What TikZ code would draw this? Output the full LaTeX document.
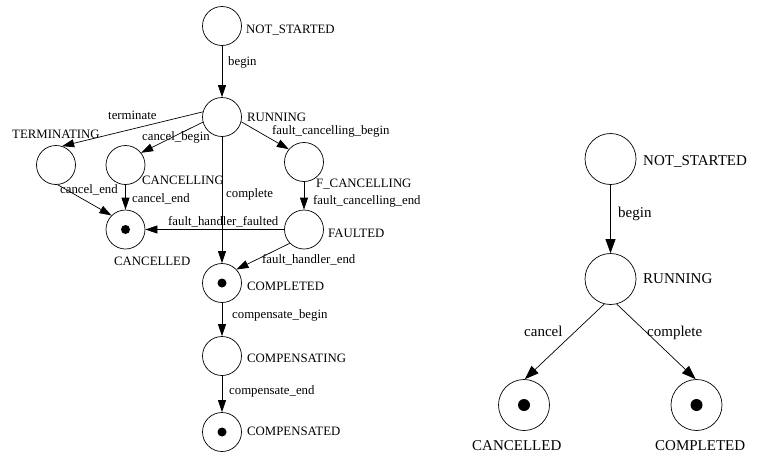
\documentclass[tikz,border=0pt]{standalone}
\usepackage{fontspec}
\setmainfont{Liberation Serif}
\usetikzlibrary{arrows.meta}
\begin{document}
\begin{tikzpicture}[x=1pt,y=-1pt,
  st/.style={circle,draw,line width=0.7pt,inner sep=0pt,minimum size=39pt},
  stb/.style={circle,draw,line width=0.7pt,inner sep=0pt,minimum size=51pt},
  dot/.style={circle,fill,inner sep=0pt,minimum size=9pt},
  dotb/.style={circle,fill,inner sep=0pt,minimum size=12pt},
  lbl/.style={anchor=base west,inner sep=0pt,font=\fontsize{12.8}{14}\selectfont},
  lblb/.style={anchor=base west,inner sep=0pt,font=\fontsize{15}{17}\selectfont},
  tr/.style={draw,line width=0.7pt,-{Triangle[length=12pt,width=8pt]}},
  trb/.style={draw,line width=0.7pt,-{Triangle[length=14pt,width=10pt]}}]
\useasboundingbox (0,0) rectangle (761,458);
% ---------- left diagram ----------
\node[st] (ns1) at (222,26) {};
\node[st] (run1) at (222,117) {};
\node[st] (term) at (56,165) {};
\node[st] (canc) at (125.5,165) {};
\node[st] (fcanc) at (304,162) {};
\node[st] (flt) at (304,229.5) {};
\node[st] (cnd1) at (125.5,229.5) {};
\node[dot] (cnd1d) at (cnd1) {};
\node[st] (cmp1) at (222,283) {};
\node[dot] (cmp1d) at (cmp1) {};
\node[st] (cmpg) at (222,356) {};
\node[st] (cmpd) at (222,432) {};
\node[dot] (cmpdd) at (cmpd) {};
% state labels
\node[lbl] (l1) at (246,33) {NOT\_STARTED};
\node[lbl] (l2) at (247,121) {RUNNING};
\node[lbl] (l3) at (12,138) {TERMINATING};
\node[lbl] (l4) at (142,184) {CANCELLING};
\node[lbl] (l5) at (316,187) {F\_CANCELLING};
\node[lbl] (l6) at (328,237.5) {FAULTED};
\node[lbl] (l7) at (114,265) {CANCELLED};
\node[lbl] (l8) at (247,290.5) {COMPLETED};
\node[lbl] (l9) at (247,362) {COMPENSATING};
\node[lbl] (l10) at (247,435) {COMPENSATED};
% transitions
\draw[tr] (ns1) -- (run1);
\draw[tr] (run1.165) -- (term.72);
\draw[tr] (run1.195) -- (canc.38);
\draw[tr] (run1.346) -- (fcanc.140);
\draw[tr] (run1) -- (cmp1);
\draw[tr] (term.275) -- (cnd1.135);
\draw[tr] (canc) -- (cnd1);
\draw[tr] (fcanc) -- (flt);
\draw[tr] (flt) -- (cnd1);
\draw[tr] (flt.224) -- (cmp1.43);
\draw[tr] (cmp1) -- (cmpg);
\draw[tr] (cmpg) -- (cmpd);
% transition labels
\node[lbl] (e1) at (228,65) {begin};
\node[lbl] (e2) at (108,119) {terminate};
\node[lbl] (e3) at (142,140) {cancel\_begin};
\node[lbl] (e4) at (272,134) {fault\_cancelling\_begin};
\node[lbl] (e5) at (226,197) {complete};
\node[lbl] (e6) at (60,193) {cancel\_end};
\node[lbl] (e7) at (132,202) {cancel\_end};
\node[lbl] (e8) at (313,204) {fault\_cancelling\_end};
\node[lbl] (e9) at (168,225) {fault\_handler\_faulted};
\node[lbl] (e10) at (262,263) {fault\_handler\_end};
\node[lbl] (e11) at (232,318) {compensate\_begin};
\node[lbl] (e12) at (229,394) {compensate\_end};
% ---------- right diagram ----------
\node[stb] (ns2) at (610.5,159) {};
\node[stb] (run2) at (610.5,279) {};
\node[stb] (cnd2) at (524,405) {};
\node[dotb] (cnd2d) at (cnd2) {};
\node[stb] (cmp2) at (696.5,405) {};
\node[dotb] (cmp2d) at (cmp2) {};
\node[lblb] (r1) at (643,165) {NOT\_STARTED};
\node[lblb] (r2) at (643,283) {RUNNING};
\node[lblb] (r3) at (472,450) {CANCELLED};
\node[lblb] (r4) at (655,450) {COMPLETED};
\draw[trb] (ns2) -- (run2);
\draw[trb] (run2.256) -- (cnd2.88);
\draw[trb] (run2.284) -- (cmp2.92);
\node[lblb] (re1) at (618,217) {begin};
\node[lblb] (re2) at (524,336) {cancel};
\node[lblb] (re3) at (647,336) {complete};
\end{tikzpicture}
\end{document}
